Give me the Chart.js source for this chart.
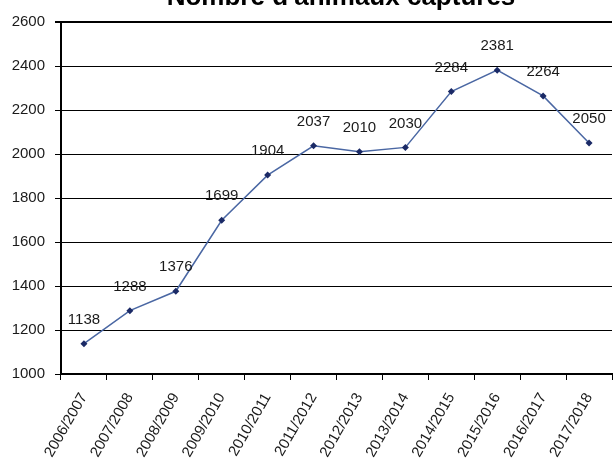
<!DOCTYPE html>
<html>
<head>
<meta charset="utf-8">
<script src="https://cdn.jsdelivr.net/npm/chart.js@4.4.1/dist/chart.umd.min.js"></script>
<style>
  html, body { margin: 0; padding: 0; background: #fff; overflow: hidden; }
  #wrap { position: relative; width: 616px; height: 460px; }
</style>
</head>
<body>
<div id="wrap"><canvas id="chart" width="616" height="460"></canvas></div>
<script>
// Données du graphique
const chartTitle = "Nombre d'animaux capturés"
const seasons = ['2006/2007', '2007/2008', '2008/2009', '2009/2010', '2010/2011', '2011/2012',
                 '2012/2013', '2013/2014', '2014/2015', '2015/2016', '2016/2017', '2017/2018']
const captures = [1138, 1288, 1376, 1699, 1904, 2037, 2010, 2030, 2284, 2381, 2264, 2050]
const yMin = 1000
const yMax = 2600
const yStep = 200

const FONT = '"Liberation Sans", Arial, sans-serif'

// Titre (coupé en haut comme sur l'original)
const titlePlugin = {
  id: 'cutTitle',
  afterDraw(chart) {
    const ctx = chart.ctx
    ctx.save()
    ctx.font = 'bold 26px ' + FONT
    ctx.fillStyle = '#000'
    ctx.textAlign = 'center'
    ctx.textBaseline = 'alphabetic'
    ctx.fillText(chartTitle, 341, 5)
    ctx.restore()
  }
}

// Étiquettes de valeurs au-dessus des points
const valueLabels = {
  id: 'valueLabels',
  afterDatasetsDraw(chart) {
    const ctx = chart.ctx
    const meta = chart.getDatasetMeta(0)
    ctx.save()
    ctx.font = '15px ' + FONT
    ctx.fillStyle = '#1a1a1a'
    ctx.textAlign = 'center'
    ctx.textBaseline = 'middle'
    meta.data.forEach((pt, i) => {
      ctx.fillText(String(captures[i]), pt.x, pt.y - 24)
    })
    ctx.restore()
  }
}

new Chart(document.getElementById('chart'), {
  type: 'line',
  data: {
    labels: seasons,
    datasets: [{
      label: chartTitle,
      data: captures,
      borderColor: '#4a67a3',
      borderWidth: 1.5,
      pointStyle: 'rectRot',
      pointRadius: 3.5,
      pointBackgroundColor: '#1b2a66',
      pointBorderColor: '#1b2a66',
      pointBorderWidth: 0,
      tension: 0,
      clip: false
    }]
  },
  options: {
    responsive: false,
    animation: false,
    layout: { padding: { top: 22, left: 0, right: 0, bottom: 0 } },
    plugins: {
      legend: { display: false },
      title: { display: false },
      tooltip: { enabled: false }
    },
    scales: {
      x: {
        offset: true,
        afterFit: (scale) => { scale.height = 86 },
        grid: {
          offset: true,
          drawOnChartArea: false,
          drawTicks: true,
          tickLength: 6,
          color: '#000',
          lineWidth: 1
        },
        border: { color: '#000', width: 2 },
        ticks: {
          autoSkip: false,
          minRotation: 60,
          maxRotation: 60,
          padding: 10,
          color: '#1a1a1a',
          font: { family: FONT, size: 15 }
        }
      },
      y: {
        min: yMin,
        max: yMax,
        afterFit: (scale) => { scale.width = 61 },
        grid: {
          color: '#000',
          lineWidth: (ctx) => (ctx.tick && ctx.tick.value === yMax ? 2 : 1),
          tickLength: 6
        },
        border: { color: '#000', width: 2 },
        ticks: {
          stepSize: yStep,
          padding: 10,
          color: '#1a1a1a',
          font: { family: FONT, size: 15 },
          callback: (value) => String(value)
        }
      }
    }
  },
  plugins: [titlePlugin, valueLabels]
})
</script>
</body>
</html>
